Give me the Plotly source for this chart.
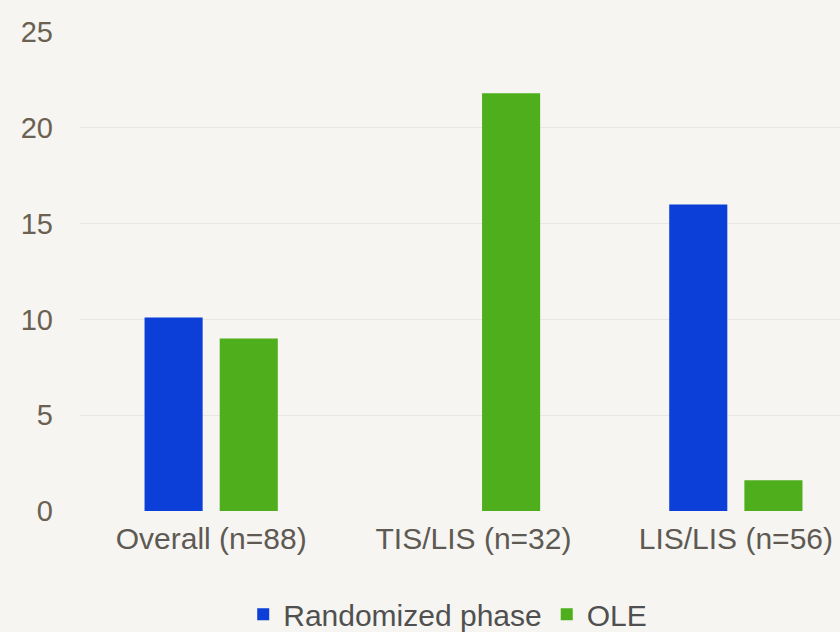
import plotly.graph_objects as go

# Categories and series values
categories = ["Overall (n=88)", "TIS/LIS (n=32)", "LIS/LIS (n=56)"]
randomized_phase = [10.1, None, 16.0]
ole = [9.0, 21.8, 1.6]
y_ticks = [0, 5, 10, 15, 20, 25]

BLUE = "#0b3fd8"
GREEN = "#4fae1c"
FONT = "Liberation Sans, Arial, sans-serif"

fig = go.Figure()
fig.add_trace(go.Bar(name="Randomized phase", x=categories, y=randomized_phase,
                     marker=dict(color=BLUE, line=dict(width=0))))
fig.add_trace(go.Bar(name="OLE", x=categories, y=ole,
                     marker=dict(color=GREEN, line=dict(width=0))))

fig.update_layout(
    width=840, height=632,
    margin=dict(l=80, r=0, t=32, b=121),
    paper_bgcolor="#f6f5f1",
    plot_bgcolor="#f6f5f1",
    barmode="group",
    bargap=0.427,
    bargroupgap=0.227,
    font=dict(family=FONT, color="#5e5a53"),
    legend=dict(
        orientation="h",
        xref="container", yref="container",
        x=0.533, xanchor="center",
        y=0.028, yanchor="middle",
        font=dict(size=30, color="#505050"),
        bgcolor="rgba(0,0,0,0)",
        itemwidth=30,
        traceorder="normal",
    ),
    xaxis=dict(
        range=[-0.5, 2.397],
        showgrid=False, zeroline=False, showline=False,
        ticks="",
        tickfont=dict(size=30, color="#5e5a53"),
        ticklabelstandoff=7,
    ),
    yaxis=dict(
        range=[0, 25],
        tickvals=y_ticks,
        showgrid=True, gridcolor="#e9e7e1", gridwidth=1,
        zeroline=False, showline=False,
        ticks="",
        tickfont=dict(size=29, color="#6a6152"),
        ticklabelstandoff=26,
    ),
)

fig.write_html("out.html")
